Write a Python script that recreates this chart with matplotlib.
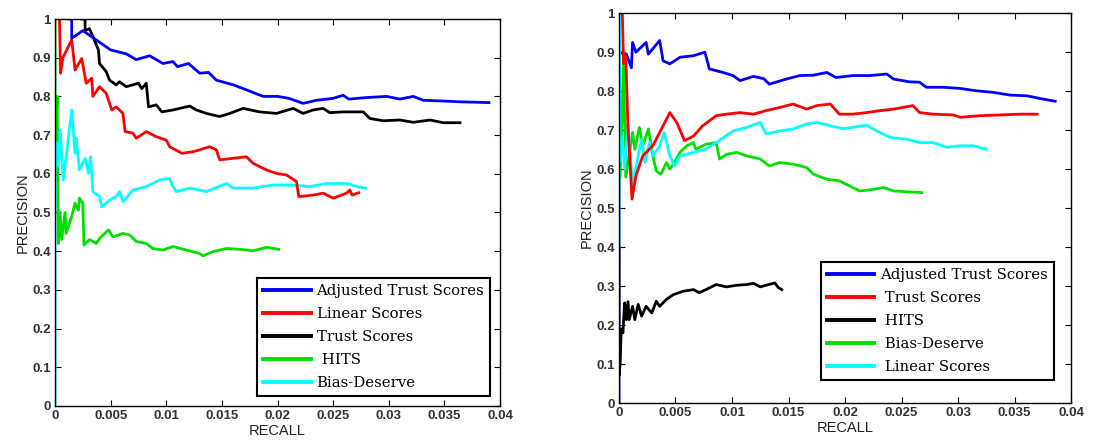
import numpy as np
import matplotlib.pyplot as plt
from matplotlib.ticker import FormatStrFormatter, MultipleLocator

# curvas precision-recall, panel izquierdo
recall_adj_a = [0.0013, 0.0015, 0.0015, 0.0025, 0.004, 0.005, 0.0064, 0.0073, 0.0085, 0.0097, 0.0106, 0.011,
                0.012, 0.013, 0.0138, 0.0145, 0.016, 0.0172, 0.0187, 0.02, 0.021, 0.0223, 0.0235, 0.025, 0.0259,
                0.0264, 0.028, 0.0298, 0.031, 0.0322, 0.0331, 0.0349, 0.0364, 0.039]
prec_adj_a = [1.0, 1.0, 0.95, 0.97, 0.94, 0.92, 0.91, 0.895, 0.905, 0.885, 0.89, 0.877,
              0.885, 0.86, 0.862, 0.842, 0.83, 0.817, 0.8, 0.8, 0.795, 0.782, 0.79, 0.795, 0.803,
              0.793, 0.797, 0.8, 0.793, 0.8, 0.79, 0.788, 0.786, 0.784]

recall_lin_a = [0.0004, 0.0005, 0.0007, 0.0015, 0.0018, 0.0024, 0.0028, 0.0033, 0.0034, 0.004, 0.0046, 0.0051,
                0.0055, 0.0061, 0.0063, 0.007, 0.0073, 0.0082, 0.0091, 0.01, 0.0103, 0.0114, 0.0124, 0.013,
                0.0139, 0.0145, 0.0148, 0.016, 0.0172, 0.0178, 0.019, 0.0199, 0.0208, 0.0217, 0.0219, 0.0232,
                0.0241, 0.025, 0.0262, 0.0265, 0.0267, 0.0273]
prec_lin_a = [1.0, 0.86, 0.9, 0.946, 0.868, 0.898, 0.834, 0.847, 0.8, 0.825, 0.808, 0.765,
              0.773, 0.756, 0.709, 0.705, 0.692, 0.709, 0.696, 0.687, 0.67, 0.653, 0.657, 0.662,
              0.67, 0.662, 0.636, 0.64, 0.644, 0.627, 0.61, 0.601, 0.597, 0.58, 0.541, 0.545,
              0.55, 0.537, 0.55, 0.558, 0.545, 0.551]

recall_trust_a = [0.0024, 0.0027, 0.0027, 0.0031, 0.0034, 0.0039, 0.004, 0.0046, 0.0049, 0.0055, 0.0058, 0.0064,
                  0.0075, 0.0078, 0.0082, 0.0084, 0.0091, 0.0096, 0.0106, 0.0121, 0.0127, 0.0136, 0.0148,
                  0.0157, 0.0169, 0.0184, 0.0199, 0.0214, 0.0223, 0.0232, 0.0241, 0.0247, 0.0259, 0.0277,
                  0.0283, 0.0295, 0.031, 0.0322, 0.0337, 0.0349, 0.0364]
prec_trust_a = [1.0, 1.0, 0.97, 0.975, 0.955, 0.92, 0.885, 0.864, 0.842, 0.83, 0.838, 0.825,
                0.834, 0.82, 0.834, 0.773, 0.778, 0.76, 0.765, 0.775, 0.765, 0.756, 0.748,
                0.756, 0.769, 0.76, 0.756, 0.769, 0.756, 0.765, 0.769, 0.758, 0.76, 0.76,
                0.743, 0.737, 0.739, 0.733, 0.739, 0.732, 0.732]

recall_hits_a = [0.0, 0.0, 0.0002, 0.0003, 0.00045, 0.0006, 0.0009, 0.001, 0.0015, 0.0018, 0.0021, 0.0022,
                 0.0025, 0.0026, 0.0031, 0.0037, 0.004, 0.0048, 0.0052, 0.0061, 0.0067, 0.0073, 0.0082,
                 0.0088, 0.0097, 0.0106, 0.0118, 0.013, 0.0133, 0.0142, 0.0154, 0.0166, 0.0178, 0.019, 0.0201]
prec_hits_a = [1.0, 0.67, 0.8, 0.42, 0.5, 0.43, 0.5, 0.446, 0.49, 0.524, 0.506, 0.537,
               0.524, 0.416, 0.43, 0.42, 0.433, 0.455, 0.437, 0.446, 0.442, 0.425, 0.42,
               0.407, 0.403, 0.412, 0.403, 0.394, 0.388, 0.399, 0.407, 0.405, 0.401, 0.41, 0.405]

recall_bias_a = [0.0, 0.0, 0.00015, 0.0003, 0.00045, 0.00075, 0.0015, 0.0018, 0.0019, 0.0022, 0.0027, 0.003,
                 0.0032, 0.0034, 0.004, 0.0042, 0.0049, 0.0055, 0.0058, 0.0061, 0.007, 0.0082, 0.0094,
                 0.0103, 0.0106, 0.0109, 0.0121, 0.0136, 0.0154, 0.016, 0.0178, 0.0196, 0.0211, 0.0229,
                 0.0244, 0.0262, 0.0271, 0.0279]
prec_bias_a = [0.0, 0.6, 0.68, 0.62, 0.713, 0.584, 0.765, 0.653, 0.692, 0.61, 0.64, 0.601,
               0.644, 0.554, 0.541, 0.515, 0.532, 0.541, 0.554, 0.528, 0.558, 0.567, 0.584,
               0.588, 0.567, 0.554, 0.563, 0.554, 0.575, 0.563, 0.563, 0.571, 0.571, 0.567,
               0.575, 0.575, 0.567, 0.563]

# curvas precision-recall, panel derecho
recall_adj_b = [0.0, 0.0, 0.00065, 0.0011, 0.0012, 0.0015, 0.0024, 0.0026, 0.0036, 0.0039, 0.0045, 0.0054,
                0.0066, 0.0076, 0.008, 0.0092, 0.0101, 0.0107, 0.0119, 0.0128, 0.0133, 0.0148, 0.016,
                0.0172, 0.0184, 0.0192, 0.0207, 0.0222, 0.0237, 0.0243, 0.0257, 0.0266, 0.0272, 0.0287,
                0.0302, 0.0316, 0.0331, 0.0346, 0.0361, 0.0373, 0.0386]
prec_adj_b = [0.0, 0.9, 0.895, 0.86, 0.925, 0.9, 0.925, 0.895, 0.93, 0.878, 0.87, 0.887,
              0.891, 0.9, 0.857, 0.848, 0.84, 0.827, 0.838, 0.832, 0.818, 0.831, 0.84,
              0.841, 0.848, 0.835, 0.84, 0.84, 0.844, 0.831, 0.824, 0.823, 0.81, 0.81,
              0.807, 0.801, 0.797, 0.79, 0.788, 0.781, 0.774]

recall_trust_b = [0.0003, 0.0004, 0.0006, 0.0008, 0.0009, 0.00115, 0.0015, 0.0021, 0.003, 0.0039, 0.0045, 0.0051,
                  0.0058, 0.0066, 0.0074, 0.0086, 0.0095, 0.0107, 0.0119, 0.013, 0.0142, 0.0154, 0.0166,
                  0.0175, 0.0187, 0.0195, 0.0207, 0.0219, 0.0231, 0.0243, 0.026, 0.0266, 0.0278, 0.0296,
                  0.0302, 0.0319, 0.0337, 0.0355, 0.037]
prec_trust_b = [1.0, 0.87, 0.89, 0.7, 0.66, 0.523, 0.583, 0.634, 0.66, 0.711, 0.745, 0.72,
                0.673, 0.685, 0.711, 0.737, 0.741, 0.745, 0.741, 0.75, 0.758, 0.767, 0.754,
                0.763, 0.767, 0.741, 0.741, 0.745, 0.75, 0.754, 0.763, 0.745, 0.741, 0.739,
                0.733, 0.737, 0.739, 0.741, 0.741]

recall_hits_b = [0.0, 0.0, 0.0001, 0.0002, 0.00035, 0.0005, 0.00065, 0.0008, 0.0009, 0.0012, 0.0014, 0.0017,
                 0.002, 0.0024, 0.0029, 0.0033, 0.0036, 0.0042, 0.0048, 0.0057, 0.0066, 0.0071, 0.0077,
                 0.0086, 0.0095, 0.0104, 0.0113, 0.0119, 0.0125, 0.013, 0.0138, 0.0141, 0.0144]
prec_hits_b = [0.4, 0.07, 0.1, 0.19, 0.18, 0.257, 0.214, 0.26, 0.214, 0.248, 0.214, 0.253,
               0.223, 0.248, 0.231, 0.261, 0.248, 0.266, 0.278, 0.287, 0.291, 0.283, 0.291,
               0.304, 0.298, 0.302, 0.304, 0.307, 0.298, 0.302, 0.308, 0.296, 0.291]

recall_bias_b = [0.0001, 0.0004, 0.0006, 0.0012, 0.0014, 0.0018, 0.0021, 0.0026, 0.003, 0.0033, 0.0037, 0.0042,
                 0.0045, 0.0049, 0.0054, 0.006, 0.0066, 0.0068, 0.0077, 0.0086, 0.0089, 0.0095, 0.0104,
                 0.0113, 0.0125, 0.0133, 0.0142, 0.0154, 0.0166, 0.0172, 0.0184, 0.0195, 0.0204, 0.0213,
                 0.0225, 0.0234, 0.0243, 0.0254, 0.0268]
prec_bias_b = [0.58, 0.865, 0.58, 0.694, 0.651, 0.707, 0.66, 0.703, 0.634, 0.595, 0.587, 0.617,
               0.6, 0.617, 0.643, 0.66, 0.668, 0.651, 0.664, 0.668, 0.626, 0.638, 0.643,
               0.634, 0.626, 0.608, 0.617, 0.613, 0.604, 0.587, 0.574, 0.57, 0.557, 0.544,
               0.548, 0.553, 0.544, 0.542, 0.54]

recall_lin_b = [0.0, 0.0, 0.0001, 0.0003, 0.0005, 0.0008, 0.0009, 0.0012, 0.0017, 0.002, 0.0023, 0.0027,
                0.003, 0.0036, 0.004, 0.0045, 0.0049, 0.0054, 0.0066, 0.0077, 0.0086, 0.0095, 0.0101,
                0.0113, 0.0125, 0.013, 0.0142, 0.0154, 0.0166, 0.0175, 0.0187, 0.0198, 0.0207, 0.0219,
                0.0228, 0.024, 0.0254, 0.0266, 0.0278, 0.029, 0.0302, 0.0313, 0.0325]
prec_lin_b = [0.4, 1.0, 0.62, 0.68, 0.6, 0.715, 0.68, 0.555, 0.634, 0.677, 0.617, 0.668,
              0.634, 0.66, 0.694, 0.634, 0.608, 0.634, 0.643, 0.651, 0.668, 0.686, 0.698,
              0.707, 0.72, 0.69, 0.698, 0.703, 0.716, 0.72, 0.711, 0.704, 0.707, 0.713,
              0.698, 0.681, 0.677, 0.668, 0.668, 0.656, 0.66, 0.66, 0.651]

plt.rcParams['font.family'] = ['Liberation Sans', 'DejaVu Sans']

fig = plt.figure(figsize=(10.94, 4.4), dpi=100)
ax1 = fig.add_axes([0.0503, 0.0773, 0.4068, 0.8795])
ax2 = fig.add_axes([0.5658, 0.084, 0.4132, 0.886])

lw = 2.0
# el orden de dibujo deja las curvas de arriba sobre las demas
ax1.plot(recall_hits_a, prec_hits_a, color='#00e000', lw=lw, label=' HITS')
ax1.plot(recall_bias_a, prec_bias_a, color='#00ffff', lw=lw, label='Bias-Deserve')
ax1.plot(recall_lin_a, prec_lin_a, color='#ff0000', lw=lw, label='Linear Scores')
ax1.plot(recall_trust_a, prec_trust_a, color='black', lw=lw, label='Trust Scores')
ax1.plot(recall_adj_a, prec_adj_a, color='#0000ff', lw=lw, label='Adjusted Trust Scores')
order1 = [4, 2, 3, 0, 1]

ax2.plot(recall_adj_b, prec_adj_b, color='#0000ff', lw=lw, label='Adjusted Trust Scores')
ax2.plot(recall_bias_b, prec_bias_b, color='#00e000', lw=lw, label=' Bias-Deserve')
ax2.plot(recall_lin_b, prec_lin_b, color='#00ffff', lw=lw, label=' Linear Scores')
ax2.plot(recall_trust_b, prec_trust_b, color='#ff0000', lw=lw, label=' Trust Scores')
ax2.plot(recall_hits_b, prec_hits_b, color='black', lw=lw, label=' HITS')
order2 = [0, 3, 4, 1, 2]

legend_pos = {ax1: (0.978, 0.026), ax2: (0.962, 0.059)}
for ax, order in ((ax1, order1), (ax2, order2)):
    ax.set_xlim(0, 0.04)
    ax.set_ylim(0, 1)
    ax.xaxis.set_major_locator(MultipleLocator(0.005))
    ax.yaxis.set_major_locator(MultipleLocator(0.1))
    ax.xaxis.set_major_formatter(FormatStrFormatter('%g'))
    ax.yaxis.set_major_formatter(FormatStrFormatter('%g'))
    ax.tick_params(direction='in', top=True, right=True, length=4, width=0.8,
                   labelsize=9.5, pad=3)
    for lab in ax.get_xticklabels() + ax.get_yticklabels():
        lab.set_fontweight('bold')
        lab.set_color('#333333')
    for sp in ax.spines.values():
        sp.set_linewidth(1.0)
    ax.set_xlabel('RECALL', fontsize=10.5, labelpad=1, color='#222222')
    ax.set_ylabel('PRECISION', fontsize=10.5, labelpad=2, color='#222222')

    handles, labels = ax.get_legend_handles_labels()
    leg = ax.legend([handles[i] for i in order], [labels[i] for i in order],
                    loc='lower right', bbox_to_anchor=legend_pos[ax], borderaxespad=0,
                    fancybox=False, framealpha=1, edgecolor='black',
                    prop={'family': 'DejaVu Serif', 'size': 10.7},
                    handlelength=3.2, handletextpad=0.4, labelspacing=0.6,
                    borderpad=0.4)
    leg.get_frame().set_linewidth(1.5)
    for h in leg.get_lines():
        h.set_linewidth(2.8)

fig.savefig('out.png', dpi=100)
